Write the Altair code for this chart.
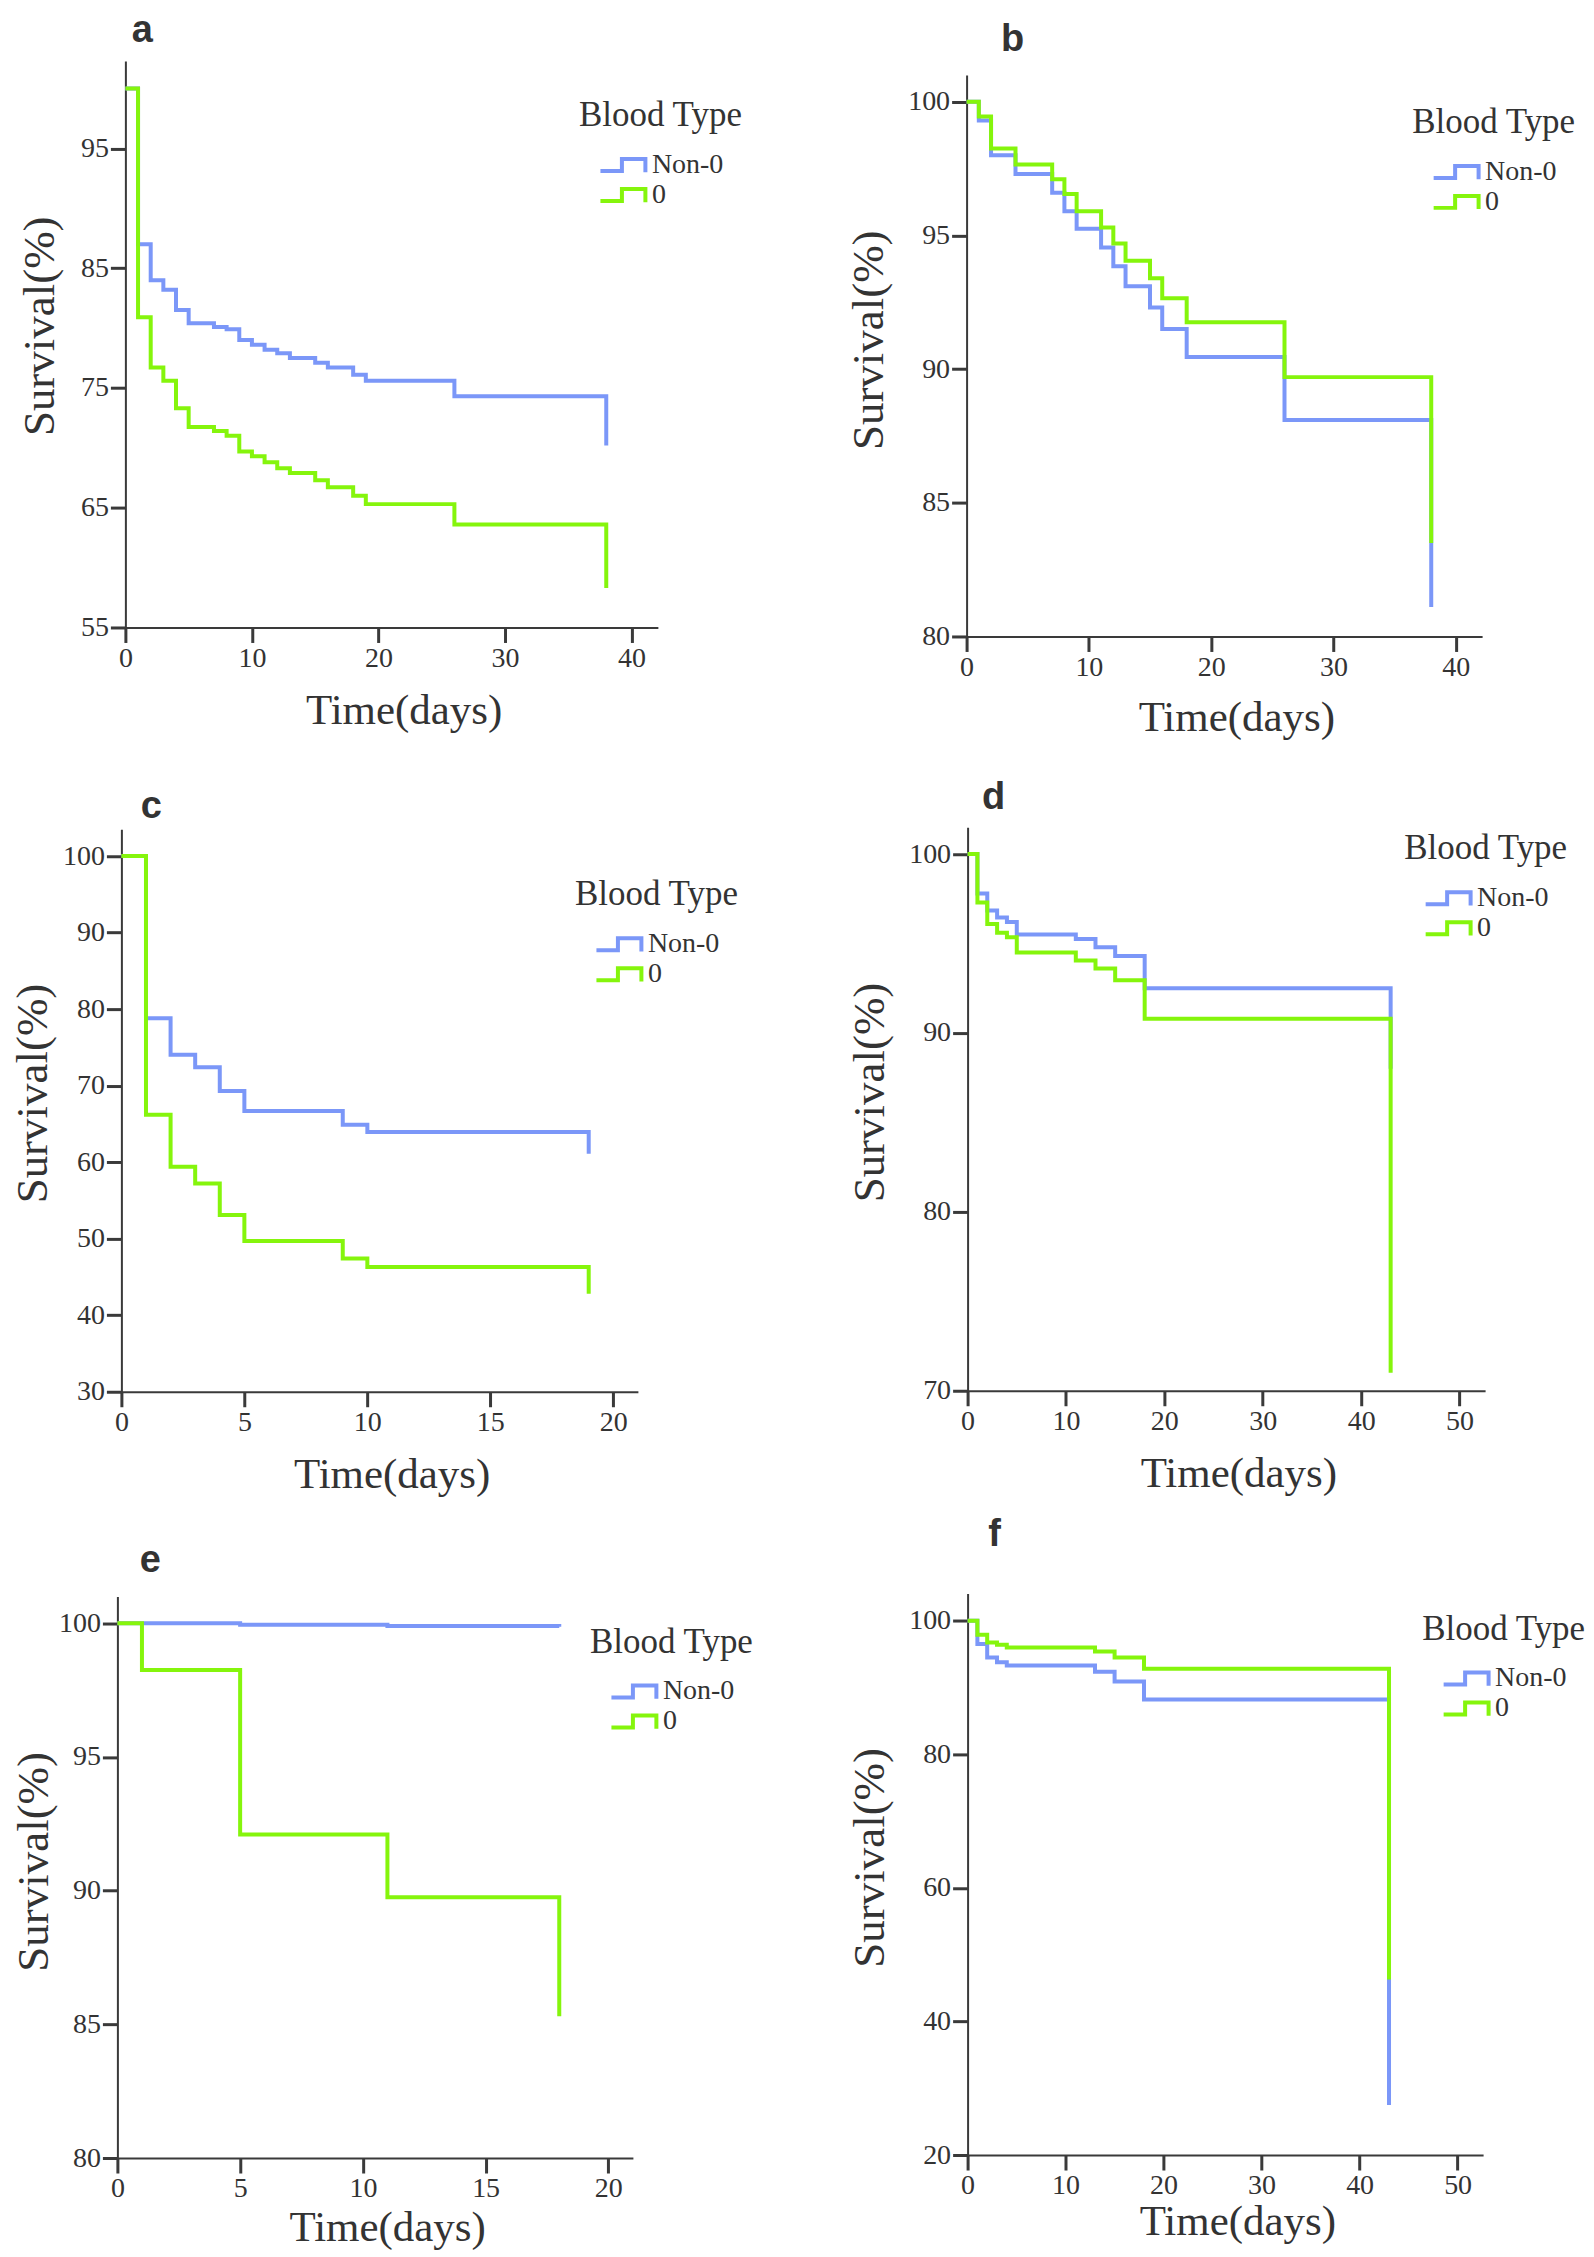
import altair as alt
import pandas as pd

# ---------------- data ----------------
GROUPS = ["Non-0", "0"]
BLUE = "#7B97F8"
GREEN = "#85F50C"

# panel a
a_t = [0, 1, 2, 3, 4, 5, 7, 8, 9, 10, 11, 12, 13, 15, 16, 18, 19, 26, 38]
a_non0 = [100, 87.0, 84.0, 83.2, 81.5, 80.4, 80.1, 79.9, 79.0, 78.6, 78.2, 77.9, 77.5, 77.1, 76.7, 76.1, 75.6, 74.3, 70.2]
a_zero = [100, 80.9, 76.7, 75.6, 73.3, 71.75, 71.4, 71.0, 69.7, 69.3, 68.8, 68.3, 67.9, 67.3, 66.7, 66.0, 65.3, 63.6, 58.3]

# panel b
b_t = [0, 1, 2, 4, 7, 8, 9, 11, 12, 13, 15, 16, 18, 26, 38]
b_non0 = [100, 99.3, 98.0, 97.3, 96.6, 95.9, 95.25, 94.55, 93.85, 93.1, 92.3, 91.5, 90.45, 88.1, 81.1]
b_zero = [100, 99.45, 98.25, 97.65, 97.1, 96.55, 95.9, 95.3, 94.7, 94.05, 93.4, 92.65, 91.75, 89.7, 83.5]

# panel c
c_t = [0, 1, 2, 3, 4, 5, 9, 10, 19]
c_non0 = [100, 78.8, 74.05, 72.4, 69.3, 66.7, 64.9, 63.95, 61.1]
c_zero = [100, 66.2, 59.4, 57.2, 53.1, 49.7, 47.4, 46.3, 42.8]

# panel d
d_t = [0, 1, 2, 3, 4, 5, 11, 13, 15, 18, 43]
d_non0 = [100, 97.8, 96.85, 96.45, 96.2, 95.5, 95.25, 94.8, 94.3, 92.5, 88.0]
d_zero = [100, 97.3, 96.1, 95.6, 95.35, 94.5, 94.05, 93.6, 92.95, 90.8, 71.0]

# panel e
e_t_non0 = [0, 5, 11, 18]
e_non0 = [100, 99.95, 99.9, 99.87]
e_t_zero = [0, 1, 5, 11, 18]
e_zero = [100, 98.25, 92.1, 89.75, 85.3]

# panel f
f_t = [0, 1, 2, 3, 4, 13, 15, 18, 43]
f_non0 = [100, 96.5, 94.5, 93.8, 93.3, 92.35, 90.9, 88.2, 27.5]
f_zero = [100, 97.9, 96.75, 96.4, 96.0, 95.4, 94.5, 92.8, 46.3]

# axis tick values
a_xticks = [0, 10, 20, 30, 40]
a_yticks = [55, 65, 75, 85, 95]
b_xticks = [0, 10, 20, 30, 40]
b_yticks = [80, 85, 90, 95, 100]
c_xticks = [0, 5, 10, 15, 20]
c_yticks = [30, 40, 50, 60, 70, 80, 90, 100]
d_xticks = [0, 10, 20, 30, 40, 50]
d_yticks = [70, 80, 90, 100]
e_xticks = [0, 5, 10, 15, 20]
e_yticks = [80, 85, 90, 95, 100]
f_xticks = [0, 10, 20, 30, 40, 50]
f_yticks = [20, 40, 60, 80, 100]

# ---------------- layout / style ----------------
SERIF = "Liberation Serif"
TXT = "#333333"
AX = "#3a3a3a"
STEP_PATH = "M-4.5,1.2H-0.2V-1.2H4.5V1.45"


def make_df(t_non0, s_non0, t_zero, s_zero):
    rows = [{"t": t, "s": s, "group": "Non-0"} for t, s in zip(t_non0, s_non0)]
    rows += [{"t": t, "s": s, "group": "0"} for t, s in zip(t_zero, s_zero)]
    return pd.DataFrame(rows)


def panel(letter, df, xdom, xticks, ydom, yticks, lay):
    dx, dy, W, H = lay["dx"], lay["dy"], lay["W"], lay["H"]
    bottom = dy + H
    xs = alt.Scale(domain=xdom, range=[dx, dx + W], nice=False, zero=False)
    ys = alt.Scale(domain=ydom, range=[bottom, dy], nice=False, zero=False)
    common_axis = dict(
        grid=False, domainColor=AX, domainWidth=2, tickColor=AX, tickWidth=3,
        tickSize=15, labelFont=SERIF, labelFontSize=28, labelColor=TXT,
        labelFlush=False, labelOverlap=False, titleFont=SERIF,
        titleColor=TXT, titleFontWeight="normal", format="d",
    )
    xaxis = alt.Axis(values=xticks, title="Time(days)", titleFontSize=43,
                     labelPadding=2, titleX=dx + W / 2 + 12, titleY=lay["xty"],
                     titleAlign="center", titleBaseline="alphabetic", **common_axis)
    yaxis = alt.Axis(values=yticks, title="Survival(%)", titleFontSize=45, offset=-dx,
                     labelPadding=2, titleX=lay["ytx"], titleY=lay["yty"],
                     titleAngle=270, titleAlign="center", titleBaseline="alphabetic",
                     **common_axis)
    legend = alt.Legend(
        title="Blood Type", orient="none", legendX=lay["lx"], legendY=lay["ly"],
        direction="vertical", padding=0,
        titleFont=SERIF, titleFontSize=35, titleFontWeight="normal", titleColor=TXT,
        titlePadding=18, labelFont=SERIF, labelFontSize=28, labelColor=TXT,
        symbolType=STEP_PATH, symbolSize=100, symbolStrokeWidth=4,
        symbolFillColor="transparent", symbolOffset=30, labelOffset=15,
        rowPadding=0,
    )
    color = alt.Color("group:N", scale=alt.Scale(domain=GROUPS, range=[BLUE, GREEN]),
                      legend=legend)
    base = alt.Chart(df).mark_line(interpolate="step-after", strokeWidth=4).encode(
        x=alt.X("t:Q", scale=xs, axis=xaxis),
        y=alt.Y("s:Q", scale=ys, axis=yaxis),
        color=color,
    )
    blue = base.transform_filter(alt.datum.group == "Non-0")
    green = base.transform_filter(alt.datum.group == "0")
    title = alt.TitleParams(
        text=letter, anchor="start", frame="group", align="center",
        dx=lay["tdx"], offset=lay["toff"], baseline="alphabetic",
        font="Liberation Sans", fontSize=38, fontWeight="bold", color=TXT,
    )
    return alt.layer(blue, green).properties(width=lay["gw"], height=dy + H, title=title)


lay_a = dict(dx=9, dy=1, W=533, H=567, gw=851, xty=96, ytx=-72, yty=266, lx=463, ly=38, tdx=26, toff=-20)
lay_b = dict(dx=0, dy=15, W=516, H=562, gw=530, xty=94, ytx=-84, yty=280, lx=446, ly=45, tdx=46, toff=-29)
lay_c = dict(dx=5, dy=193, W=517, H=563, gw=851, xty=96, ytx=-75, yty=457, lx=459, ly=241, tdx=35, toff=-220)
lay_d = dict(dx=1, dy=191, W=518, H=564, gw=530, xty=96, ytx=-84, yty=456, lx=438, ly=195, tdx=27, toff=-211)
lay_e = dict(dx=1, dy=205, W=516, H=562, gw=851, xty=83, ytx=-70, yty=470, lx=474, ly=233, tdx=34, toff=-218)
lay_f = dict(dx=1, dy=202, W=516, H=562, gw=530, xty=80, ytx=-84, yty=466, lx=456, ly=220, tdx=28, toff=-192)

pa = panel("a", make_df(a_t, a_non0, a_t, a_zero), [0, 42.08], a_xticks, [55, 102.3], a_yticks, lay_a)
pb = panel("b", make_df(b_t, b_non0, b_t, b_zero), [0, 42.16], b_xticks, [80, 101], b_yticks, lay_b)
pc = panel("c", make_df(c_t, c_non0, c_t, c_zero), [0, 21.0], c_xticks, [30, 103.5], c_yticks, lay_c)
pd_ = panel("d", make_df(d_t, d_non0, d_t, d_zero), [0, 52.6], d_xticks, [70, 101.5], d_yticks, lay_d)
pe = panel("e", make_df(e_t_non0, e_non0, e_t_zero, e_zero), [0, 21.0], e_xticks, [80, 101], e_yticks, lay_e)
pf = panel("f", make_df(f_t, f_non0, f_t, f_zero), [0, 52.6], f_xticks, [20, 104.07], f_yticks, lay_f)

chart = alt.concat(pa, pb, pc, pd_, pe, pf, columns=2, spacing=0, bounds="flush", align="none")
chart = chart.resolve_scale(x="independent", y="independent", color="independent")
chart = chart.resolve_legend(color="independent")
chart = chart.properties(padding={"left": 2.5, "top": 3, "right": 0, "bottom": 0},
                         background="white").configure_view(stroke=None)

chart.save("out.html", embed_options={"renderer": "svg", "actions": False})
